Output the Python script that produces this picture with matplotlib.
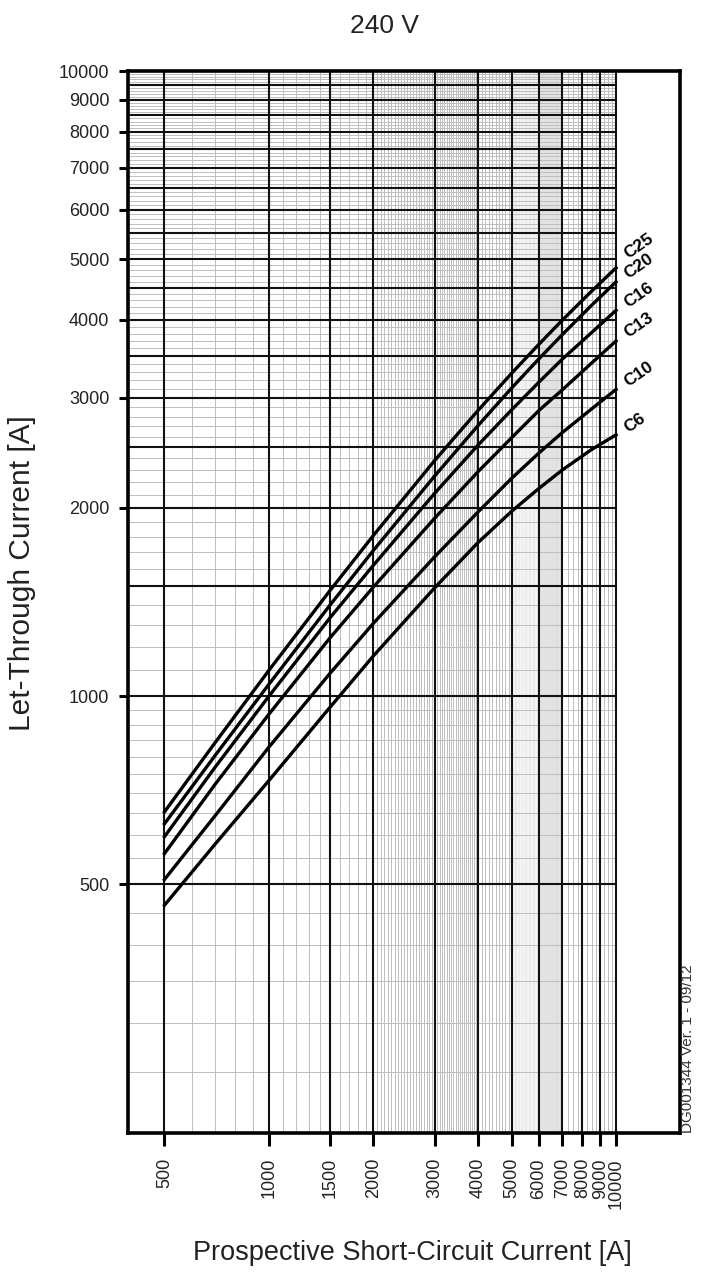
import numpy as np
import matplotlib
matplotlib.use("Agg")
import matplotlib.pyplot as plt
from matplotlib.ticker import NullLocator, FixedLocator, FixedFormatter

plt.rcParams["font.family"] = ["Liberation Sans", "DejaVu Sans"]

# =========================================================
# DATA
# =========================================================

prospective = [500, 700, 1000, 1500, 2000, 3000, 4000, 5000, 6000, 7000, 8500, 10000]

c25 = [653, 843, 1100, 1476, 1808, 2381, 2863, 3284, 3657, 3994, 4444, 4843]
c20 = [625, 804, 1045, 1399, 1711, 2249, 2708, 3110, 3466, 3787, 4218, 4600]
c16 = [596, 770, 1000, 1335, 1620, 2110, 2520, 2870, 3180, 3460, 3815, 4142]
c13 = [560, 723, 936, 1240, 1495, 1925, 2285, 2590, 2865, 3090, 3410, 3700]
c10 = [509, 644, 829, 1088, 1308, 1670, 1970, 2230, 2450, 2640, 2880, 3095]
c6 = [463, 580, 733, 960, 1160, 1490, 1760, 1975, 2150, 2300, 2480, 2618]

curve_names = ["C25", "C20", "C16", "C13", "C10", "C6"]
curves = [c25, c20, c16, c13, c10, c6]

x_ticks = [500, 1000, 1500, 2000, 3000, 4000, 5000, 6000, 7000, 8000, 9000, 10000]
y_ticks = [500, 1000, 2000, 3000, 4000, 5000, 6000, 7000, 8000, 9000, 10000]

# label offsets in pixels from the end of each curve
label_offsets = [(12, 9), (12, 3), (12, 2), (12, 3), (12, 2), (12, 2)]

# =========================================================
# FIGURE
# =========================================================

fig = plt.figure(figsize=(7.01, 12.8), dpi=100)
ax = fig.add_axes([0.1826, 0.1148, 0.7875, 0.8297])

ax.set_xscale("log")
ax.set_yscale("log")

x_lo, x_hi = 392.5, 15290
y_lo, y_hi = 200, 10000

ax.set_xlim(x_lo, x_hi)
ax.set_ylim(y_lo, y_hi)

# ---- grid (paper) ----
minor_gray = "#bdbdbd"

v_minor = np.concatenate([
    np.arange(600, 1000, 100),
    np.arange(1100, 1500, 100),
    np.arange(1600, 2000, 100),
    np.arange(2050, 3000, 50),
    np.arange(3050, 4000, 50),
    np.arange(4100, 5000, 100),
    np.arange(7250, 10000, 250),
])
v_minor = [v for v in v_minor if v not in x_ticks]

# the darker, very dense part of the paper
v_dense = np.concatenate([
    np.arange(5050, 6000, 50),
    np.arange(6025, 7000, 25),
])

h_minor = np.concatenate([
    np.arange(250, 500, 50),
    np.arange(550, 1000, 50),
    np.arange(1100, 10000, 100),
])
h_minor = [h for h in h_minor if h % 500 != 0]
h_major = list(range(500, 10001, 500))
h_major = [h for h in h_major if h == 500 or h >= 1000]

ax.vlines(v_minor, y_lo, y_hi, colors=minor_gray, linewidth=0.7, zorder=1)
ax.vlines(v_dense, y_lo, y_hi, colors="#d2d2d2", linewidth=0.35, zorder=1)
ax.hlines(h_minor, x_lo, 10000, colors=minor_gray, linewidth=0.7, zorder=1)

ax.vlines(x_ticks, y_lo, y_hi, colors="#111111", linewidth=1.5, zorder=2)
ax.hlines(h_major, x_lo, 10000, colors="#111111", linewidth=1.5, zorder=2)

# ---- curves ----
for name, y, off in zip(curve_names, curves, label_offsets):

    ax.plot(prospective, y, color="black", linewidth=2.4,
            solid_joinstyle="round", zorder=3)

    ax.annotate(
        name,
        xy=(prospective[-1], y[-1]),
        xytext=off,
        textcoords="offset pixels",
        rotation=35,
        rotation_mode="anchor",
        ha="left",
        va="baseline",
        fontsize=12.5,
        fontweight="bold",
        color="black"
    )

# ---- ticks ----
ax.xaxis.set_major_locator(FixedLocator(x_ticks))
ax.xaxis.set_major_formatter(FixedFormatter([str(v) for v in x_ticks]))
ax.xaxis.set_minor_locator(NullLocator())

ax.yaxis.set_major_locator(FixedLocator(y_ticks))
ax.yaxis.set_major_formatter(FixedFormatter([str(v) for v in y_ticks]))
ax.yaxis.set_minor_locator(NullLocator())

ax.tick_params(axis="x", which="major", direction="out", length=9,
               width=2.2, pad=9, labelsize=13, labelrotation=90,
               labelcolor="#222222")
ax.tick_params(axis="y", which="major", direction="out", length=6.5,
               width=2.2, pad=7, labelsize=13, labelcolor="#222222")

for lab in ax.get_xticklabels():
    lab.set_verticalalignment("top")

for s in ax.spines.values():
    s.set_linewidth(2.6)
    s.set_zorder(5)

# ---- texts ----
fig.text(0.549, 0.980, "240 V", ha="center", va="center", fontsize=19,
         family=["Liberation Sans Narrow", "Liberation Sans", "DejaVu Sans"],
         color="#222222")

fig.text(0.031, 0.552, "Let-Through Current [A]", rotation=90,
         ha="center", va="center", fontsize=21.5, color="#222222")

fig.text(0.588, 0.021, "Prospective Short-Circuit Current [A]",
         ha="center", va="center", fontsize=19.5, color="#222222")

fig.text(0.9815, 0.1148, "DG001344 Ver. 1 - 09/12", rotation=90,
         ha="center", va="bottom", fontsize=11, color="#333333")

fig.savefig("out.png", dpi=100)
